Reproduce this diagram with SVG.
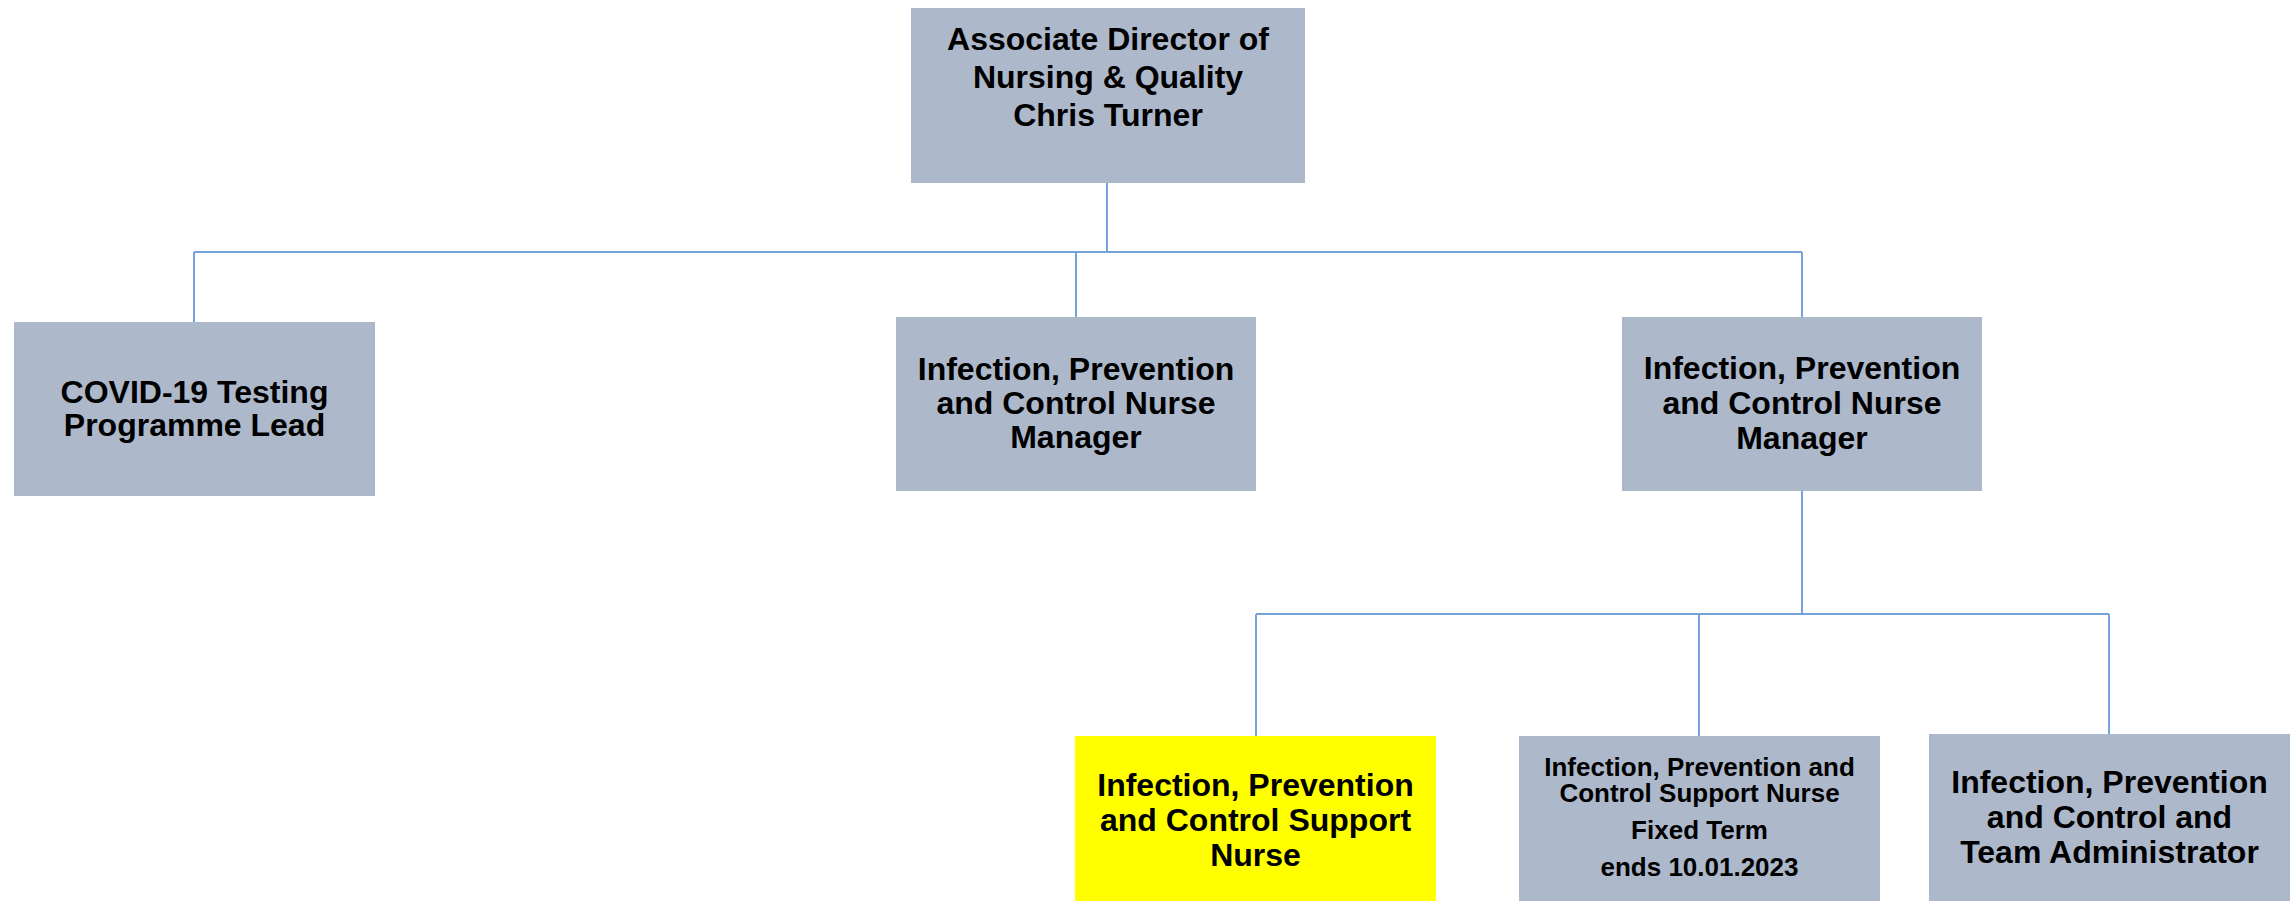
<svg xmlns="http://www.w3.org/2000/svg" width="2292" height="901" viewBox="0 0 2292 901">
<style>
.box{fill:#adb9cb}
.hl{fill:#ffff00}
.t{font-family:"Liberation Sans",Arial,sans-serif;font-weight:bold;font-size:32px;fill:#000;text-anchor:middle}
.s{font-size:26px}
.c{fill:none;stroke:#74a3dc;stroke-width:2}
</style>
<rect width="2292" height="901" fill="#fff"/>
<g id="connectors">
<path class="c" d="M1107 183V252M194 252H1802M194 252V322M1076 252V317M1802 252V317"/>
<path class="c" d="M1802 491V614M1256 614H2109M1256 614V736M1699 614V736M2109 614V734"/>
</g>
<g id="director">
<rect class="box" x="911" y="8" width="394" height="175"/>
<text class="t" x="1108" y="50">Associate Director of</text>
<text class="t" x="1108" y="88">Nursing &amp; Quality</text>
<text class="t" x="1108" y="126">Chris Turner</text>
</g>
<g id="covid">
<rect class="box" x="14" y="322" width="361" height="174"/>
<text class="t" x="194.5" y="403">COVID-19 Testing</text>
<text class="t" x="194.5" y="436">Programme Lead</text>
</g>
<g id="ipc-manager-1">
<rect class="box" x="896" y="317" width="360" height="174"/>
<text class="t" x="1076" y="380">Infection, Prevention</text>
<text class="t" x="1076" y="414">and Control Nurse</text>
<text class="t" x="1076" y="448">Manager</text>
</g>
<g id="ipc-manager-2">
<rect class="box" x="1622" y="317" width="360" height="174"/>
<text class="t" x="1802" y="379">Infection, Prevention</text>
<text class="t" x="1802" y="414">and Control Nurse</text>
<text class="t" x="1802" y="449">Manager</text>
</g>
<g id="support-nurse">
<rect class="hl" x="1075" y="736" width="361" height="165"/>
<text class="t" x="1255.5" y="796">Infection, Prevention</text>
<text class="t" x="1255.5" y="831">and Control Support</text>
<text class="t" x="1255.5" y="866">Nurse</text>
</g>
<g id="support-nurse-fixed">
<rect class="box" x="1519" y="736" width="361" height="165"/>
<text class="t s" x="1699.5" y="776">Infection, Prevention and</text>
<text class="t s" x="1699.5" y="802">Control Support Nurse</text>
<text class="t s" x="1699.5" y="839">Fixed Term</text>
<text class="t s" x="1699.5" y="876">ends 10.01.2023</text>
</g>
<g id="administrator">
<rect class="box" x="1929" y="734" width="361" height="167"/>
<text class="t" x="2109.5" y="793">Infection, Prevention</text>
<text class="t" x="2109.5" y="828">and Control and</text>
<text class="t" x="2109.5" y="863">Team Administrator</text>
</g>
</svg>
